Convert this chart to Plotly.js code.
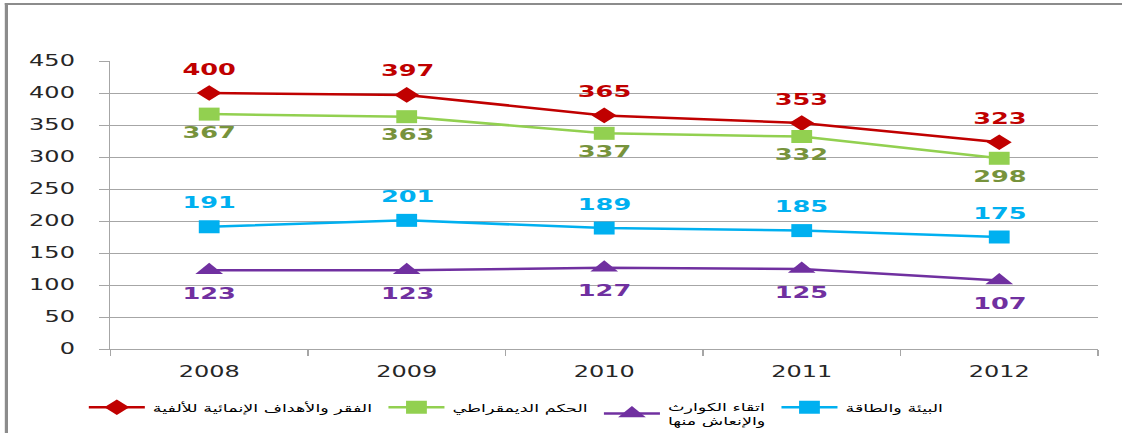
<!DOCTYPE html>
<html>
<head>
<meta charset="utf-8">
<script src="https://cdn.plot.ly/plotly-3.0.1.min.js"></script>
<style>
  html, body { margin:0; padding:0; background:#fff; overflow:hidden; }
  #wrap { position:absolute; left:0; top:0; width:701px; height:433px; transform-origin:0 0; }
  #chart { position:absolute; left:0; top:0; width:701px; height:433px; }
  #frame { position:absolute; left:2.5px; top:3px; width:720px; height:440px;
           border-left:2px solid #8c8c8c; border-top:2px solid #8c8c8c; pointer-events:none; }
</style>
</head>
<body>
<div id="wrap"><div id="chart"></div><div id="frame"></div></div>
<script>
// ---- data ----
const years = ['2008', '2009', '2010', '2011', '2012'];
const povertyMDG = [400, 397, 365, 353, 323];
const governance = [367, 363, 337, 332, 298];
const disasters = [123, 123, 127, 125, 107];
const environment = [191, 201, 189, 185, 175];
const seriesNames = [
  'الفقر والأهداف الإنمائية للألفية',
  'الحكم الديمقراطي',
  'اتقاء الكوارث<br>والإنعاش منها',
  'البيئة والطاقة'
];
const yTicks = [0, 50, 100, 150, 200, 250, 300, 350, 400, 450];

// ---- horizontal stretch of the whole picture ----
const W = 701;
const S = 1122 / W;
document.getElementById('wrap').style.transform = 'scaleX(' + S + ')';

const series = [
  {y: povertyMDG, name: seriesNames[0], line: '#C00000', mark: '#C00000', sym: 'diamond', size: 12, lab: '#C00000', shift: 24},
  {y: governance, name: seriesNames[1], line: '#92D050', mark: '#92D050', sym: 'square', size: 13, lab: '#77933C', shift: -18},
  {y: disasters, name: seriesNames[2], line: '#7030A0', mark: '#7030A0', sym: 'triangle-up', size: 15, lab: '#7030A0', shift: -23},
  {y: environment, name: seriesNames[3], line: '#00B0F0', mark: '#00B0F0', sym: 'square', size: 13, lab: '#00B0F0', shift: 24}
];

const traces = series.map(s => ({
  type: 'scatter', mode: 'lines+markers', x: years, y: s.y, name: s.name,
  line: {color: s.line, width: 2.5},
  marker: {color: s.mark, symbol: s.sym, size: s.size},
  cliponaxis: false
}));

const annotations = [];
series.forEach(s => {
  s.y.forEach((v, i) => {
    annotations.push({
      x: i, y: v, xref: 'x', yref: 'y', text: String(v), showarrow: false,
      yshift: s.shift, font: {family: 'DejaVu Sans', size: 16, color: s.lab, weight: 'bold'}
    });
  });
});

const layout = {
  width: W, height: 433,
  margin: {l: 68.7, r: 14.7, t: 60.7, b: 84.3, autoexpand: false},
  paper_bgcolor: '#ffffff', plot_bgcolor: '#ffffff',
  showlegend: true,
  legend: {
    orientation: 'h', x: -0.03, xanchor: 'left', y: -0.225, yanchor: 'middle',
    font: {family: 'DejaVu Sans', size: 11, color: '#000'},
    itemwidth: 35, traceorder: 'normal', bgcolor: 'rgba(0,0,0,0)'
  },
  xaxis: {
    type: 'category', range: [-0.5, 4.5], autorange: false,
    showgrid: false, showline: true, linecolor: '#A6A6A6', linewidth: 1.2,
    ticks: 'outside', tickson: 'boundaries', ticklen: 6, tickcolor: '#A6A6A6',
    tickangle: 0, ticklabelstandoff: 9,
    tickfont: {family: 'DejaVu Sans', size: 15, color: '#262626'},
    zeroline: false, fixedrange: true
  },
  yaxis: {
    range: [0, 450], autorange: false, tickvals: yTicks, ticktext: yTicks.map(String),
    showgrid: true, gridcolor: '#A6A6A6', gridwidth: 1,
    showline: true, linecolor: '#A6A6A6', linewidth: 1.2,
    ticks: 'outside', ticklen: 6, tickcolor: '#A6A6A6',
    ticklabelstandoff: 12,
    tickfont: {family: 'DejaVu Sans', size: 15, color: '#262626'},
    zeroline: false, fixedrange: true
  },
  annotations: annotations
};

Plotly.newPlot('chart', traces, layout, {displayModeBar: false, staticPlot: true});
</script>
</body>
</html>
